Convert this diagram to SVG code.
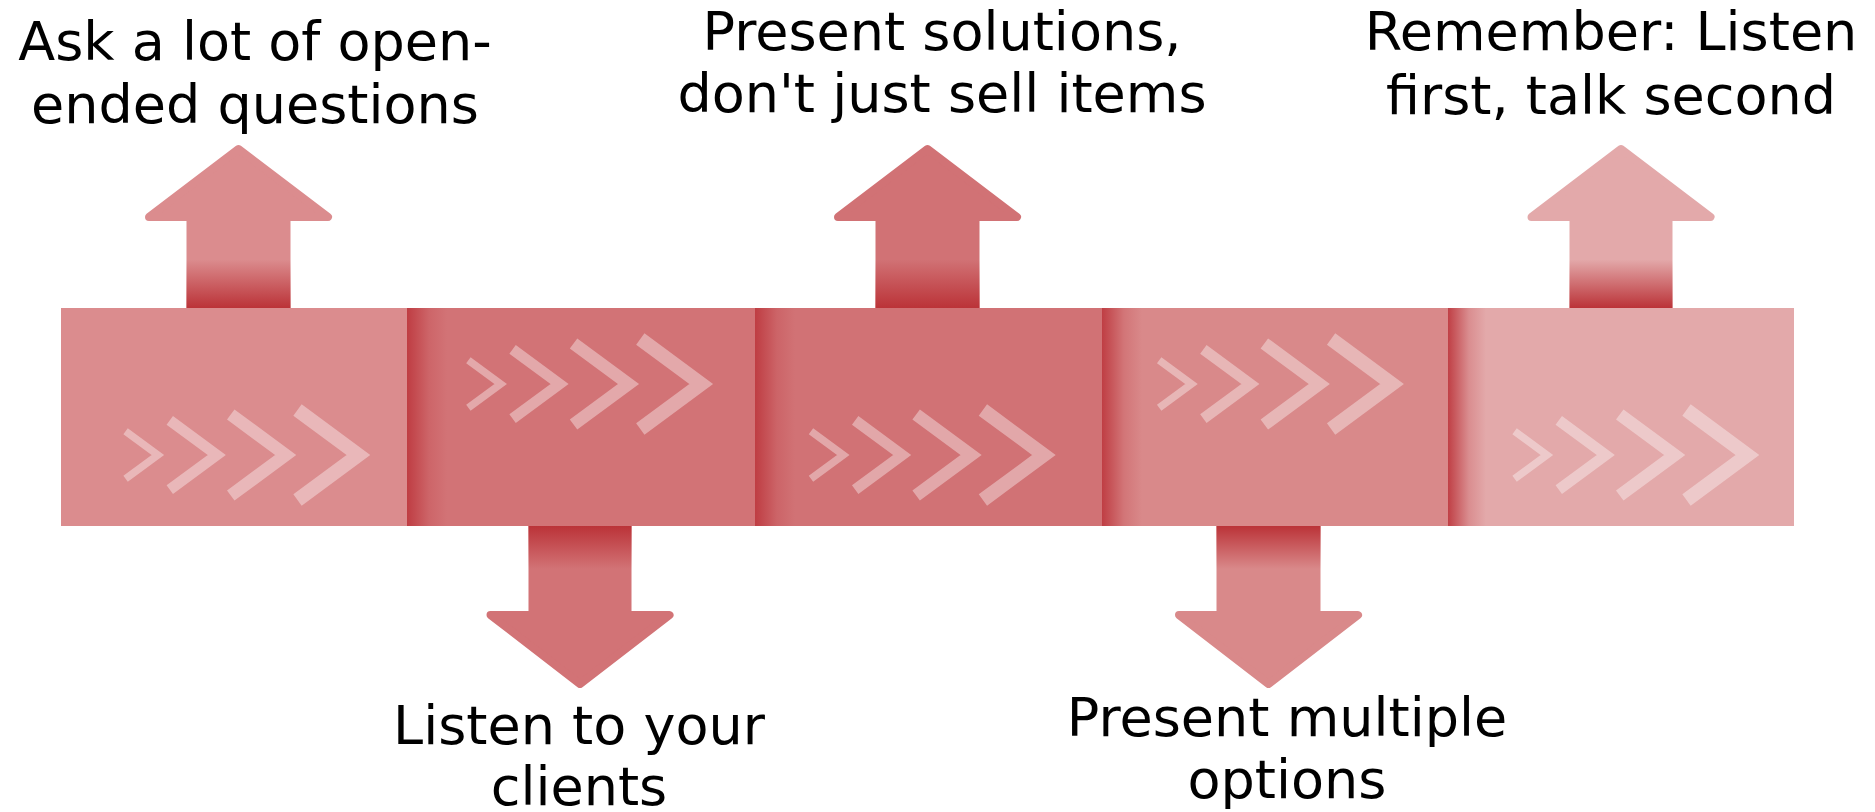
<svg xmlns="http://www.w3.org/2000/svg" xmlns:xlink="http://www.w3.org/1999/xlink" width="1875" height="812" viewBox="0 0 1875 812">
<style>
  text { font-family: "DejaVu Sans", "Liberation Sans", sans-serif; font-size: 54px; fill: #000; text-anchor: middle; }
  .chev { fill: none; stroke: #ffffff; stroke-opacity: 0.38; stroke-width: 14; stroke-linejoin: miter; stroke-miterlimit: 10; }
  .head { stroke-width: 8; stroke-linejoin: round; }
</style>
<defs>
  <polyline id="chev" class="chev" points="-72.5,-45 -11.5,0 -72.5,45"/>
  <g id="chevset">
    <use xlink:href="#chev" href="#chev" transform="translate(-206,0) scale(0.53)"/>
    <use xlink:href="#chev" href="#chev" transform="translate(-144.4,0) scale(0.77)"/>
    <use xlink:href="#chev" href="#chev" transform="translate(-74,0) scale(0.9)"/>
    <use xlink:href="#chev" href="#chev"/>
  </g>
  <linearGradient id="div" x1="0" y1="0" x2="1" y2="0">
    <stop offset="0" stop-color="#be3a40" stop-opacity="0.95"/>
    <stop offset="0.2" stop-color="#be3a40" stop-opacity="0.7"/>
    <stop offset="0.55" stop-color="#be3a40" stop-opacity="0.25"/>
    <stop offset="1" stop-color="#be3a40" stop-opacity="0"/>
  </linearGradient>
  <linearGradient id="up" x1="0" y1="0" x2="0" y2="1">
    <stop offset="0.45" stop-color="#bb3338" stop-opacity="0"/>
    <stop offset="1" stop-color="#bb3338" stop-opacity="1"/>
  </linearGradient>
  <linearGradient id="down" x1="0" y1="0" x2="0" y2="1">
    <stop offset="0" stop-color="#bb3338" stop-opacity="1"/>
    <stop offset="0.5" stop-color="#bb3338" stop-opacity="0"/>
  </linearGradient>
</defs>

<g id="step1">
  <rect x="61" y="308" width="346" height="218" fill="#db8c8e"/>
  <use xlink:href="#chevset" href="#chevset" transform="translate(370,455)"/>
  <polygon class="head" points="238.5,149 328,217 149,217" fill="#db8c8e" stroke="#db8c8e"/>
  <rect x="186.5" y="220" width="104" height="88" fill="#db8c8e"/>
  <rect x="186.5" y="220" width="104" height="88" fill="url(#up)"/>
  <text x="255" y="60">Ask a lot of open-</text>
  <text x="255" y="123">ended questions</text>
</g>

<g id="step2">
  <rect x="407" y="308" width="348" height="218" fill="#d27376"/>
  <rect x="407" y="308" width="40" height="218" fill="url(#div)"/>
  <use xlink:href="#chevset" href="#chevset" transform="translate(712.8,384)"/>
  <rect x="528.5" y="526" width="103" height="86" fill="#d27376"/>
  <rect x="528.5" y="526" width="103" height="86" fill="url(#down)"/>
  <polygon class="head" points="580,684 669.5,615 490.5,615" fill="#d27376" stroke="#d27376"/>
  <text x="579" y="744">Listen to your</text>
  <text x="579" y="805">clients</text>
</g>

<g id="step3">
  <rect x="755" y="308" width="347" height="218" fill="#d17275"/>
  <rect x="755" y="308" width="40" height="218" fill="url(#div)"/>
  <use xlink:href="#chevset" href="#chevset" transform="translate(1055.4,455)"/>
  <polygon class="head" points="927.5,149 1017,217 838,217" fill="#d17275" stroke="#d17275"/>
  <rect x="875.5" y="220" width="104" height="88" fill="#d17275"/>
  <rect x="875.5" y="220" width="104" height="88" fill="url(#up)"/>
  <text x="942" y="50">Present solutions,</text>
  <text x="942" y="112">don't just sell items</text>
</g>

<g id="step4">
  <rect x="1102" y="308" width="346" height="218" fill="#d9898a"/>
  <rect x="1102" y="308" width="40" height="218" fill="url(#div)"/>
  <use xlink:href="#chevset" href="#chevset" transform="translate(1403.6,384)"/>
  <rect x="1216.5" y="526" width="104" height="86" fill="#d9898a"/>
  <rect x="1216.5" y="526" width="104" height="86" fill="url(#down)"/>
  <polygon class="head" points="1268.5,684 1358,615 1179,615" fill="#d9898a" stroke="#d9898a"/>
  <text x="1287" y="736">Present multiple</text>
  <text x="1287" y="798">options</text>
</g>

<g id="step5">
  <rect x="1448" y="308" width="346" height="218" fill="#e3a9aa"/>
  <rect x="1448" y="308" width="38" height="218" fill="url(#div)"/>
  <use xlink:href="#chevset" href="#chevset" transform="translate(1759,455)"/>
  <polygon class="head" points="1621,149 1710.5,217 1531.5,217" fill="#e3a9aa" stroke="#e3a9aa"/>
  <rect x="1569.5" y="220" width="103" height="88" fill="#e3a9aa"/>
  <rect x="1569.5" y="220" width="103" height="88" fill="url(#up)"/>
  <text x="1611" y="50">Remember: Listen</text>
  <text x="1611" y="114">first, talk second</text>
</g>
</svg>
